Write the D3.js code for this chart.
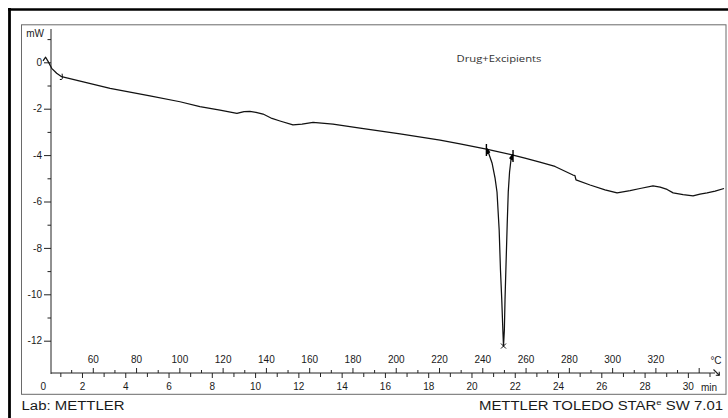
<!DOCTYPE html>
<html>
<head>
<meta charset="utf-8">
<script src="https://cdn.jsdelivr.net/npm/d3@7"></script>
<style>
  html, body { margin: 0; padding: 0; background: #fff; }
  svg { display: block; }
  text { font-family: "Liberation Sans", Arial, sans-serif; fill: #1a1a1a; }
</style>
</head>
<body>
<svg id="chart" width="728" height="418"></svg>
<script>
// DSC trace: heat flow (mW) against sample temperature (°C), 10 K/min from 35 °C
const tempC = [37.0, 38.2, 39.4, 41.0, 43.3, 45.6, 55.6, 68.0, 86.4, 100.3, 109.5, 118.8,
  126.6, 129.9, 132.6, 135.4, 138.7, 142.8, 146.5, 152.5, 156.7, 161.8, 171.0, 183.5,
  202.0, 220.5, 229.7, 241.9, 242.9, 244.5, 245.9, 246.8, 247.8, 248.4, 249.0, 249.5,
  249.8, 250.2, 250.5, 251.0, 251.5, 252.0, 252.6, 253.3, 254.2, 259.7, 266.6, 273.6,
  281.9, 282.8, 283.3, 289.8, 296.7, 302.3, 308.3, 312.9, 318.9, 322.2, 325.4, 328.2,
  332.8, 337.4, 340.6, 343.9, 347.6, 351.7];
const heatFlow = [0.06, 0.22, 0.03, -0.26, -0.47, -0.62, -0.84, -1.12, -1.45, -1.70, -1.91, -2.06,
  -2.20, -2.13, -2.12, -2.16, -2.23, -2.42, -2.53, -2.70, -2.66, -2.59, -2.66, -2.84,
  -3.09, -3.35, -3.52, -3.74, -3.91, -4.34, -4.99, -5.59, -7.23, -8.95, -10.24, -11.54,
  -12.23, -11.54, -10.24, -8.61, -7.01, -5.59, -4.73, -4.17, -4.00, -4.13, -4.30, -4.49,
  -4.86, -4.88, -5.07, -5.29, -5.50, -5.63, -5.53, -5.44, -5.33, -5.38, -5.48, -5.63,
  -5.70, -5.76, -5.68, -5.63, -5.55, -5.44];

// peak integration limits and peak maximum (°C)
const peakLimits = [241.9, 254.2];
const peakTemp = 249.8;
const markerTemp = 45.6;

const yTickLabels = [0, -2, -4, -6, -8, -10, -12];
const yMinorTicks = [1, -1, -3, -5, -7, -9, -11];
const tempTickLabels = [60, 80, 100, 120, 140, 160, 180, 200, 220, 240, 260, 280, 300, 320];
const tempTicksAll = [60, 80, 100, 120, 140, 160, 180, 200, 220, 240, 260, 280, 300, 320, 340];
const tempMinorTicks = [50, 70, 90, 110, 130, 150, 170, 190, 210, 230, 250, 270, 290, 310, 330];
const timeTickLabels = [0, 2, 4, 6, 8, 10, 12, 14, 16, 18, 20, 22, 24, 26, 28, 30];
const timeMinorTicks = [1, 3, 5, 7, 9, 11, 13, 15, 17, 19, 21, 23, 25, 27, 29, 31];

const svg = d3.select("#chart");
const axisY = 373, axisX = 51;

// temperature and time share one baseline (35 °C at t = 0, 10 K/min)
const xTemp = d3.scaleLinear().domain([35, 345]).range([38.7, 709.5]);
const xTime = d3.scaleLinear().domain([0, 31]).range([38.7, 709.5]);
const y = d3.scaleLinear().domain([1, -12]).range([39.1, 340.7]);

// page frame
svg.append("rect").attr("width", 728).attr("height", 418).attr("fill", "#fff");
svg.append("line").attr("x1", 8).attr("x2", 728).attr("y1", 9.5).attr("y2", 9.5)
  .attr("stroke", "#000").attr("stroke-width", 2.6);
svg.append("line").attr("x1", 9.5).attr("x2", 9.5).attr("y1", 8).attr("y2", 418)
  .attr("stroke", "#000").attr("stroke-width", 2.8);
svg.append("rect").attr("x", 21.5).attr("y", 24.8).attr("width", 704.5).attr("height", 369.5)
  .attr("fill", "none").attr("stroke", "#6a6a6a").attr("stroke-width", 1);

// y axis
const yMajor = d3.axisLeft(y).tickValues(yTickLabels).tickSize(7).tickPadding(2)
  .tickFormat(d3.format("d"));
const gY = svg.append("g").attr("transform", `translate(${axisX},0)`).call(yMajor);
gY.select(".domain").remove();
gY.selectAll("text").attr("font-size", 10).attr("font-family", null)
  .text(d => d < 0 ? "-" + Math.abs(d) : d);
const gYm = svg.append("g").attr("transform", `translate(${axisX},0)`)
  .call(d3.axisLeft(y).tickValues(yMinorTicks).tickSize(3.5).tickFormat(""));
gYm.select(".domain").remove();
svg.append("line").attr("x1", axisX).attr("x2", axisX).attr("y1", 29).attr("y2", axisY + 1)
  .attr("stroke", "#222").attr("stroke-width", 1);
svg.append("text").attr("x", 44).attr("y", 36.5).attr("text-anchor", "end")
  .attr("font-size", 10).text("mW");

// temperature axis (ticks upward)
const gT = svg.append("g").attr("transform", `translate(0,${axisY})`)
  .call(d3.axisTop(xTemp).tickValues(tempTicksAll).tickSize(5).tickPadding(5)
    .tickFormat(d => tempTickLabels.includes(d) ? d : ""));
gT.select(".domain").remove();
gT.selectAll("text").attr("font-size", 10).attr("font-family", null);
const gTm = svg.append("g").attr("transform", `translate(0,${axisY})`)
  .call(d3.axisTop(xTemp).tickValues(tempMinorTicks).tickSize(3).tickFormat(""));
gTm.select(".domain").remove();

// time axis (ticks downward)
const gM = svg.append("g").attr("transform", `translate(0,${axisY})`)
  .call(d3.axisBottom(xTime).tickValues(timeTickLabels).tickSize(5).tickPadding(5)
    .tickFormat(d3.format("d")));
gM.select(".domain").remove();
gM.selectAll("text").attr("font-size", 10).attr("font-family", null)
  .attr("dx", d => d === 0 ? 4 : 0);
gM.selectAll(".tick").filter(d => d === 0).select("line").remove();
const gMm = svg.append("g").attr("transform", `translate(0,${axisY})`)
  .call(d3.axisBottom(xTime).tickValues(timeMinorTicks).tickSize(4).tickFormat(""));
gMm.select(".domain").remove();

svg.selectAll(".tick line").attr("stroke", "#222");

svg.append("line").attr("x1", axisX).attr("x2", 715).attr("y1", axisY).attr("y2", axisY)
  .attr("stroke", "#222").attr("stroke-width", 1);
svg.append("path").attr("d", "M713.5,369.5 L719.5,375.5 M719.5,375.5 L715.8,375.2 M719.5,375.5 L719.2,371.8")
  .attr("fill", "none").attr("stroke", "#222").attr("stroke-width", 1.1);
svg.append("text").attr("x", 716).attr("y", 364).attr("text-anchor", "middle")
  .attr("font-size", 10).text("°C");
svg.append("text").attr("x", 709).attr("y", 390.5).attr("text-anchor", "middle")
  .attr("font-size", 10).text("min");

// curve
const pts = tempC.map((t, i) => [t, heatFlow[i]]);
const line = d3.line().x(d => xTemp(d[0])).y(d => y(d[1]));
svg.append("path").datum(pts).attr("d", line)
  .attr("fill", "none").attr("stroke", "#111").attr("stroke-width", 1.25)
  .attr("stroke-linejoin", "round");

// integration baseline between the peak limits
const limitPts = peakLimits.map(t => pts.find(p => p[0] === t));
svg.append("path").datum(limitPts).attr("d", line)
  .attr("fill", "none").attr("stroke", "#111").attr("stroke-width", 1.25);

// limit markers
limitPts.forEach((p, i) => {
  const px = xTemp(p[0]), py = y(p[1]);
  const s = i === 0 ? 1 : -1;
  svg.append("path")
    .attr("d", `M${px},${py - 5} L${px},${py + 7} M${px},${py - 1} L${px + 3 * s},${py + 3} L${px},${py + 5} Z`)
    .attr("fill", "#000").attr("stroke", "#000").attr("stroke-width", 1.4);
});

// peak maximum marker
const tip = pts.find(p => p[0] === peakTemp);
const tx = xTemp(tip[0]), ty = y(tip[1]);
svg.append("path")
  .attr("d", `M${tx - 2.5},${ty - 2.5} L${tx + 2.5},${ty + 2.5} M${tx + 2.5},${ty - 2.5} L${tx - 2.5},${ty + 2.5}`)
  .attr("stroke", "#111").attr("stroke-width", 1);

// small start marker on the curve
const m = pts.find(p => p[0] === markerTemp);
const mx = xTemp(m[0]), my = y(m[1]);
svg.append("path")
  .attr("d", `M${mx + 0.5},${my - 3} L${mx + 0.8},${my + 1.5} Q${mx + 0.5},${my + 3.5} ${mx - 1.8},${my + 2.8}`)
  .attr("fill", "none").attr("stroke", "#111").attr("stroke-width", 1);

// sample name
svg.append("text").attr("x", 456.5).attr("y", 61.5)
  .attr("font-family", "'Open Sans', sans-serif").attr("font-size", 9.5)
  .attr("textLength", 85).attr("lengthAdjust", "spacingAndGlyphs")
  .style("fill", "#333").style("font-family", "'Open Sans', sans-serif")
  .text("Drug+Excipients");

// footer
svg.append("text").attr("x", 21.5).attr("y", 409.5).attr("font-size", 12.5)
  .attr("textLength", 103).attr("lengthAdjust", "spacingAndGlyphs")
  .text("Lab: METTLER");
const foot = svg.append("text").attr("x", 479).attr("y", 409.5).attr("font-size", 12.5)
  .attr("textLength", 244).attr("lengthAdjust", "spacingAndGlyphs");
foot.append("tspan").text("METTLER TOLEDO STAR");
foot.append("tspan").attr("font-size", 8).attr("dy", -5).text("e");
foot.append("tspan").attr("dy", 5).text(" SW 7.01");
</script>
</body>
</html>
